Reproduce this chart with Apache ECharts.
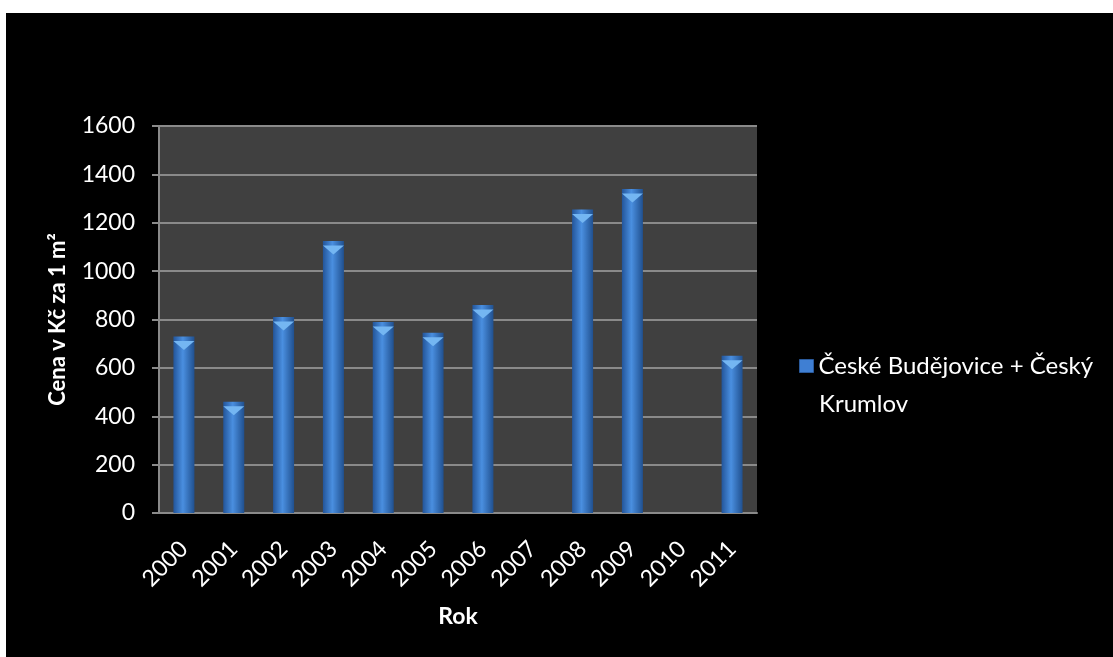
<!DOCTYPE html>
<html>
<head>
<meta charset="UTF-8">
<title>Cena v Kč za 1 m²</title>
<script type="text/javascript" src="https://cdn.jsdelivr.net/npm/echarts@6/dist/echarts.min.js"></script>
<style>
  html, body { margin: 0; padding: 0; background: #fff; }
  #main { position: absolute; left: 6px; top: 13px; width: 1107px; height: 644px; }
</style>
</head>
<body>
<div id="main"></div>
<script type="text/javascript">
  // hodnoty
  var years = ['2000', '2001', '2002', '2003', '2004', '2005', '2006', '2007', '2008', '2009', '2010', '2011'];
  var prices = [730, 460, 810, 1125, 790, 745, 860, null, 1255, 1340, null, 650];
  var seriesName = 'České Budějovice + Český Krumlov';

  var font = 'Lato, "Noto Sans", sans-serif';
  var vals = prices.map(function (v) { return v == null ? '-' : v; });
  // legenda je ve dvou řádcích, druhý řádek dopisuju zvlášť
  var legendLine1 = 'České Budějovice + Český';
  var legendLine2 = seriesName.slice(legendLine1.length + 1);

  var myChart = echarts.init(document.getElementById('main'));

  var option = {
    backgroundColor: '#000',
    animation: false,
    textStyle: { fontFamily: font },
    grid: {
      left: 153, top: 113, width: 598, height: 387,
      show: true, backgroundColor: '#404040', borderWidth: 0
    },
    legend: {
      data: [seriesName],
      left: 793, top: 341, padding: 0,
      itemWidth: 14, itemHeight: 13,
      icon: 'rect',
      symbolKeepAspect: false,
      itemStyle: { color: '#3f7fd3', borderColor: '#2a5a9c', borderWidth: 1 },
      formatter: function () { return legendLine1; },
      textStyle: { color: '#fff', fontSize: 24, fontFamily: font }
    },
    graphic: [{
      type: 'text',
      left: 813, top: 379,
      style: { text: legendLine2, fill: '#fff', fontSize: 24, fontFamily: font }
    }],
    xAxis: {
      type: 'category',
      data: years,
      name: 'Rok',
      nameLocation: 'middle',
      nameGap: 92,
      nameTextStyle: { color: '#fff', fontSize: 23, fontWeight: 'bold', fontFamily: font },
      axisLine: { lineStyle: { color: '#8a8a8a', width: 2 } },
      axisTick: { show: false },
      axisLabel: { color: '#fff', fontSize: 23, rotate: 45, margin: 32, interval: 0, fontFamily: font }
    },
    yAxis: {
      type: 'value',
      min: 0, max: 1600, interval: 200,
      name: 'Cena v Kč za 1 m²',
      nameLocation: 'middle',
      nameGap: 90,
      nameTextStyle: { color: '#fff', fontSize: 22, fontWeight: 'bold', fontFamily: font },
      axisLine: { show: true, lineStyle: { color: '#8a8a8a', width: 2 } },
      axisTick: { show: true, length: 7, lineStyle: { color: '#8a8a8a', width: 2 } },
      axisLabel: { color: '#fff', fontSize: 23, margin: 24, fontFamily: font, formatter: function (v) { return String(v); } },
      splitLine: { lineStyle: { color: '#8a8a8a', width: 2 } }
    },
    series: [{
      name: seriesName,
      type: 'bar',
      barWidth: 21,
      data: vals,
      itemStyle: {
        color: new echarts.graphic.LinearGradient(0, 0, 1, 0, [
          { offset: 0, color: '#23559a' },
          { offset: 0.45, color: '#4a8fe0' },
          { offset: 1, color: '#20508f' }
        ])
      }
    }, {
      type: 'pictorialBar',
      data: vals,
      symbol: 'path://M0,0 L20,0 L10,8 Z',
      symbolSize: [21, 9],
      symbolPosition: 'end',
      symbolOffset: [0, '50%'],
      z: 3,
      itemStyle: { color: '#74b6f2' }
    }]
  };
  myChart.setOption(option);
</script>
</body>
</html>
